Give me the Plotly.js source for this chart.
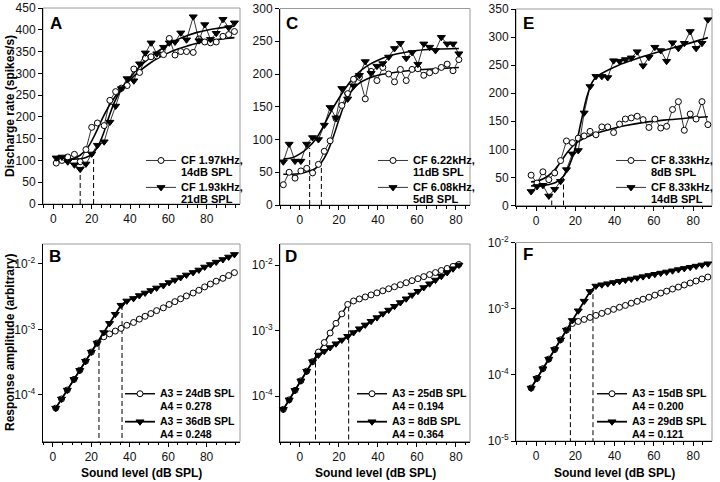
<!DOCTYPE html>
<html>
<head>
<meta charset="utf-8">
<script src="https://cdn.plot.ly/plotly-3.0.1.min.js"></script>
<style>
    body { margin: 0; background: #fff; }
    #chart { width: 720px; height: 482px; }
</style>
</head>
<body>
<div id="chart"></div>
<script>
//sound levels (dB SPL) used in each column of panels
let levelsAB = [1.5, 4.5, 7.5, 11, 14, 17, 20, 23, 26.5, 29.5, 32.5, 35.5, 38.5, 42, 45, 48, 51, 54, 57.5, 60.5, 63.5, 66.5, 69.5, 73, 76, 79, 82, 85, 88.5, 91.5, 94.5];
let levelsCD = [-8.5, -5.5, -2.5, 0.5, 3.5, 6.5, 9.5, 12.5, 15.5, 18.5, 21.5, 24.5, 27.5, 30.5, 33.5, 36.5, 39.5, 42.5, 45.5, 48.5, 51.5, 54.5, 57.5, 60.5, 63.5, 66.5, 69.5, 72.5, 75.5, 78.5, 81.5];
let levelsEF = [-2.5, 0.5, 3.5, 6.5, 9.5, 12.5, 15.5, 18.5, 21.5, 24.5, 27.5, 30.5, 33.5, 36.5, 39.5, 42.5, 45.5, 48.5, 51.5, 54.5, 57.5, 60.5, 63.5, 66.5, 69.5, 72.5, 75.5, 78.5, 81.5, 84.5, 87.5];

//panel A - discharge rates (spikes/s)
let rateA1 = [94, 100, 108, 114, 97, 125, 176, 186, 180, 238, 258, 266, 272, 310, 302, 335, 338, 340, 343, 380, 342, 350, 350, 348, 379, 372, 370, 372, 385, 389, 396];
let rateA2 = [106, 108, 97, 90, 80, 92, 115, 135, 143, 188, 225, 265, 288, 283, 322, 347, 370, 345, 360, 370, 372, 393, 377, 430, 375, 412, 378, 392, 424, 405, 416];
let fitLevelsA1 = [1.5, 6, 10, 14, 18, 22, 26, 30, 35, 40, 45, 50, 55, 60, 65, 70, 75, 80, 85, 90, 94.5];
let fitA1 = [100, 101, 104, 112, 130, 162, 200, 232, 262, 285, 305, 322, 336, 347, 356, 363, 369, 374, 377, 380, 382];
let fitLevelsA2 = [1.5, 6, 10, 14, 17, 20, 23, 26, 29, 32, 35, 40, 45, 50, 55, 60, 65, 70, 75, 80, 85, 90, 94.5];
let fitA2 = [103, 103, 103, 104, 107, 114, 130, 160, 200, 235, 260, 290, 315, 335, 352, 366, 378, 387, 394, 399, 403, 406, 408];
let threshA = [14, 21];
let threshTopA = [82, 120];

//panel C
let rateC1 = [31, 50, 41, 52, 56, 49, 62, 82, 98, 132, 152, 170, 192, 195, 162, 204, 190, 210, 200, 188, 207, 190, 207, 208, 198, 202, 205, 210, 215, 205, 222];
let rateC2 = [66, 93, 67, 67, 93, 103, 100, 122, 149, 133, 178, 162, 182, 198, 219, 201, 212, 216, 226, 239, 247, 224, 233, 215, 246, 241, 236, 256, 246, 246, 231];
let fitLevelsC1 = [-8.5, -4, 0, 4, 8, 11, 14, 17, 20, 23, 26, 30, 35, 40, 50, 60, 70, 81.5];
let fitC1 = [47, 47, 48, 51, 56, 65, 80, 103, 130, 155, 172, 185, 193, 198, 203, 206, 208, 210];
let fitLevelsC2 = [-8.5, -4, 0, 4, 8, 12, 16, 20, 24, 28, 32, 36, 40, 45, 50, 60, 70, 81.5];
let fitC2 = [70, 72, 78, 87, 100, 120, 143, 163, 181, 196, 207, 215, 221, 227, 231, 236, 238, 239];
let threshC = [5, 11];
let threshTopC = [87, 64];

//panel E
let rateE1 = [54, 40, 60, 46, 58, 80, 115, 112, 120, 124, 132, 126, 140, 140, 130, 145, 154, 156, 159, 153, 139, 154, 138, 141, 171, 185, 134, 163, 154, 185, 144];
let rateE2 = [25, 34, 36, 17, 29, 43, 64, 92, 98, 165, 212, 230, 230, 228, 258, 257, 260, 263, 274, 249, 264, 282, 276, 257, 290, 280, 289, 310, 280, 289, 331];
let fitLevelsE1 = [-2.5, 0, 4, 8, 12, 16, 20, 24, 28, 32, 38, 45, 55, 65, 75, 87.5];
let fitE1 = [42, 43, 48, 58, 75, 95, 110, 119, 125, 130, 136, 142, 148, 152, 155, 158];
let fitLevelsE2 = [-2.5, 2, 6, 10, 14, 17, 20, 23, 26, 29, 32, 36, 42, 50, 60, 70, 80, 87.5];
let fitE2 = [35, 35, 37, 41, 52, 72, 103, 150, 195, 222, 232, 240, 250, 260, 271, 281, 291, 299];
let threshE = [8, 14];
let threshTopE = [20, 49];

//panel B - response amplitude (arbitrary)
let ampB1 = [6.3e-5, 8.7e-5, 1.19e-4, 1.73e-4, 2.38e-4, 3.28e-4, 4.52e-4, 6.21e-4, 7.74e-4, 8.56e-4, 9.46e-4, 1.04e-3, 1.16e-3, 1.28e-3, 1.44e-3, 1.59e-3, 1.75e-3, 1.94e-3, 2.14e-3, 2.41e-3, 2.66e-3, 2.94e-3, 3.25e-3, 3.6e-3, 3.97e-3, 4.47e-3, 4.94e-3, 5.46e-3, 6.04e-3, 6.67e-3, 7.38e-3];
let ampB2 = [6.3e-5, 8.7e-5, 1.19e-4, 1.73e-4, 2.38e-4, 3.28e-4, 4.52e-4, 6.21e-4, 9.0e-4, 1.24e-3, 1.71e-3, 2.35e-3, 2.73e-3, 2.98e-3, 3.3e-3, 3.61e-3, 3.94e-3, 4.31e-3, 4.7e-3, 5.21e-3, 5.7e-3, 6.22e-3, 6.8e-3, 7.43e-3, 8.11e-3, 9.0e-3, 9.82e-3, 1.07e-2, 1.17e-2, 1.28e-2, 1.4e-2];
let threshB = [24, 36];
let threshTopB = [6.6e-4, 2.5e-3];

//panel D
let ampD1 = [6.31e-5, 8.82e-5, 1.23e-4, 1.72e-4, 2.41e-4, 3.37e-4, 4.71e-4, 6.58e-4, 9.2e-4, 1.29e-3, 1.8e-3, 2.51e-3, 2.83e-3, 3.04e-3, 3.26e-3, 3.5e-3, 3.76e-3, 4.04e-3, 4.34e-3, 4.66e-3, 5.0e-3, 5.37e-3, 5.77e-3, 6.19e-3, 6.65e-3, 7.14e-3, 7.67e-3, 8.24e-3, 8.85e-3, 9.51e-3, 1.02e-2];
let ampD2 = [6.31e-5, 8.82e-5, 1.23e-4, 1.72e-4, 2.41e-4, 3.37e-4, 4.25e-4, 4.85e-4, 5.53e-4, 6.31e-4, 7.19e-4, 8.2e-4, 9.35e-4, 1.07e-3, 1.22e-3, 1.39e-3, 1.58e-3, 1.81e-3, 2.06e-3, 2.35e-3, 2.68e-3, 3.06e-3, 3.49e-3, 3.98e-3, 4.54e-3, 5.18e-3, 5.9e-3, 6.74e-3, 7.69e-3, 8.77e-3, 1.0e-2];
let threshD = [8, 25];
let threshTopD = [4.3e-4, 2.45e-3];

//panel F
let ampF1 = [6.31e-5, 8.83e-5, 1.24e-4, 1.73e-4, 2.42e-4, 3.39e-4, 4.74e-4, 5.97e-4, 6.41e-4, 6.87e-4, 7.38e-4, 7.91e-4, 8.49e-4, 9.1e-4, 9.77e-4, 1.05e-3, 1.12e-3, 1.21e-3, 1.29e-3, 1.39e-3, 1.49e-3, 1.6e-3, 1.72e-3, 1.84e-3, 1.98e-3, 2.12e-3, 2.28e-3, 2.44e-3, 2.62e-3, 2.81e-3, 3.01e-3];
let ampF2 = [6.31e-5, 8.83e-5, 1.24e-4, 1.73e-4, 2.42e-4, 3.39e-4, 4.74e-4, 6.64e-4, 9.29e-4, 1.3e-3, 1.82e-3, 2.2e-3, 2.3e-3, 2.39e-3, 2.49e-3, 2.59e-3, 2.7e-3, 2.81e-3, 2.93e-3, 3.05e-3, 3.18e-3, 3.31e-3, 3.45e-3, 3.59e-3, 3.74e-3, 3.9e-3, 4.06e-3, 4.23e-3, 4.4e-3, 4.58e-3, 4.78e-3];
let threshF = [17.5, 29];
let threshTopF = [5.6e-4, 1.9e-3];

//legend labels
let namesA = ['CF 1.97kHz,<br>14dB SPL', 'CF 1.93kHz,<br>21dB SPL'];
let namesC = ['CF 6.22kHz,<br>11dB SPL', 'CF 6.08kHz,<br>5dB SPL'];
let namesE = ['CF 8.33kHz,<br>8dB SPL', 'CF 8.33kHz,<br>14dB SPL'];
let namesB = ['A3 = 24dB SPL<br>A4 = 0.278', 'A3 = 36dB SPL<br>A4 = 0.248'];
let namesD = ['A3 = 25dB SPL<br>A4 = 0.194', 'A3 = 8dB SPL<br>A4 = 0.364'];
let namesF = ['A3 = 15dB SPL<br>A4 = 0.200', 'A3 = 29dB SPL<br>A4 = 0.121'];

let font = 'Liberation Sans, Arial, Helvetica, sans-serif';

//pixel -> paper helpers (no margins, so paper == page)
function px(x) { return x / 720; }
function py(y) { return 1 - y / 482; }

//plot boxes in pixels: left, right, top, bottom
let boxA = [43, 240, 8, 204];
let boxC = [280, 470, 8.5, 205];
let boxE = [516, 712, 9, 205.5];
let boxB = [42.5, 240, 244, 441.5];
let boxD = [280, 470, 244, 441.5];
let boxF = [516, 712, 242.5, 441];

function xAxis(box, range, anchor) {
    return {
        domain: [px(box[0]), px(box[1])],
        range: range,
        anchor: anchor,
        showline: true,
        linecolor: '#000',
        linewidth: 1,
        ticks: 'outside',
        ticklen: 4,
        tickcolor: '#000',
        tick0: 0,
        dtick: 20,
        minor: { ticks: 'outside', ticklen: 2.5, tick0: 0, dtick: 5, tickcolor: '#000' },
        showgrid: false,
        zeroline: false,
        tickfont: { family: font, size: 12, color: '#111' }
    };
}

function yAxis(box, range, anchor, dtick) {
    return {
        domain: [py(box[3]), py(box[2])],
        range: range,
        anchor: anchor,
        showline: true,
        linecolor: '#000',
        linewidth: 1,
        ticks: 'outside',
        ticklen: 4,
        tickcolor: '#000',
        tick0: 0,
        dtick: dtick,
        showgrid: false,
        zeroline: false,
        tickfont: { family: font, size: 12, color: '#111' }
    };
}

function logAxis(box, range, anchor, vals) {
    let axis = yAxis(box, range, anchor, null);
    delete axis.dtick;
    delete axis.tick0;
    axis.type = 'log';
    axis.tickvals = vals;
    axis.ticktext = vals.map(v => '10<sup>' + Math.round(Math.log10(v)) + '</sup>');
    return axis;
}

//legend text is set a little larger than the legend font so the lines sit closer together
function legendName(text, size) {
    return '<span style="font-size:' + size + 'px">' + text.replace('<br>', '</span><br><span style="font-size:' + size + 'px">') + '</span>';
}

function dataTrace(x, y, filled, xa, ya, name, legend, width) {
    return {
        x: x,
        y: y,
        name: name,
        legend: legend,
        xaxis: xa,
        yaxis: ya,
        type: 'scatter',
        mode: 'lines+markers',
        cliponaxis: false,
        line: { color: '#000', width: width },
        marker: {
            symbol: filled ? 'triangle-down' : 'circle',
            size: filled ? 7 : 6,
            color: filled ? '#000' : '#fff',
            line: { color: '#000', width: 1 }
        }
    };
}

function fitTrace(x, y, xa, ya) {
    return {
        x: x,
        y: y,
        xaxis: xa,
        yaxis: ya,
        type: 'scatter',
        mode: 'lines',
        showlegend: false,
        hoverinfo: 'skip',
        line: { color: '#000', width: 1.6, shape: 'spline', smoothing: 1 }
    };
}

//vertical dashed lines from the axis floor up to each threshold
function threshTrace(levels, tops, floor, xa, ya) {
    let xs = [];
    let ys = [];
    levels.forEach((lv, i) => {
        xs.push(lv, lv, null);
        ys.push(floor, tops[i], null);
    });
    return {
        x: xs,
        y: ys,
        xaxis: xa,
        yaxis: ya,
        type: 'scatter',
        mode: 'lines',
        showlegend: false,
        hoverinfo: 'skip',
        line: { color: '#000', width: 1, dash: '5px,3px' }
    };
}

let graphData = [
    fitTrace(fitLevelsA1, fitA1, 'x', 'y'),
    fitTrace(fitLevelsA2, fitA2, 'x', 'y'),
    threshTrace(threshA, threshTopA, 0, 'x', 'y'),
    dataTrace(levelsAB, rateA1, false, 'x', 'y', legendName(namesA[0], 11), 'legend', 0.8),
    dataTrace(levelsAB, rateA2, true, 'x', 'y', legendName(namesA[1], 11), 'legend', 0.8),

    fitTrace(fitLevelsC1, fitC1, 'x2', 'y2'),
    fitTrace(fitLevelsC2, fitC2, 'x2', 'y2'),
    threshTrace(threshC, threshTopC, 0, 'x2', 'y2'),
    dataTrace(levelsCD, rateC1, false, 'x2', 'y2', legendName(namesC[0], 11), 'legend2', 0.8),
    dataTrace(levelsCD, rateC2, true, 'x2', 'y2', legendName(namesC[1], 11), 'legend2', 0.8),

    fitTrace(fitLevelsE1, fitE1, 'x3', 'y3'),
    fitTrace(fitLevelsE2, fitE2, 'x3', 'y3'),
    threshTrace(threshE, threshTopE, 0, 'x3', 'y3'),
    dataTrace(levelsEF, rateE1, false, 'x3', 'y3', legendName(namesE[0], 11), 'legend3', 0.8),
    dataTrace(levelsEF, rateE2, true, 'x3', 'y3', legendName(namesE[1], 11), 'legend3', 0.8),

    threshTrace(threshB, threshTopB, 1e-6, 'x4', 'y4'),
    dataTrace(levelsAB, ampB1, false, 'x4', 'y4', legendName(namesB[0], 10.5), 'legend4', 1.4),
    dataTrace(levelsAB, ampB2, true, 'x4', 'y4', legendName(namesB[1], 10.5), 'legend4', 1.8),

    threshTrace(threshD, threshTopD, 1e-6, 'x5', 'y5'),
    dataTrace(levelsCD, ampD1, false, 'x5', 'y5', legendName(namesD[0], 10.5), 'legend5', 1.4),
    dataTrace(levelsCD, ampD2, true, 'x5', 'y5', legendName(namesD[1], 10.5), 'legend5', 1.8),

    threshTrace(threshF, threshTopF, 1e-6, 'x6', 'y6'),
    dataTrace(levelsEF, ampF1, false, 'x6', 'y6', legendName(namesF[0], 10.5), 'legend6', 1.4),
    dataTrace(levelsEF, ampF2, true, 'x6', 'y6', legendName(namesF[1], 10.5), 'legend6', 1.8)
];

function legendAt(right, top, size) {
    return {
        x: px(right),
        xanchor: 'right',
        y: py(top),
        yanchor: 'top',
        bgcolor: 'rgba(0,0,0,0)',
        borderwidth: 0,
        itemwidth: 30,
        valign: 'top',
        tracegroupgap: 0,
        font: { family: font, size: size, color: '#000', weight: 'bold' }
    };
}

//light grey frame round each panel (left/bottom are drawn by the axes)
let frames = ['', '2', '3', '4', '5', '6'].map(n => ({
    type: 'rect',
    xref: 'x' + n + ' domain',
    yref: 'y' + n + ' domain',
    x0: 0, x1: 1, y0: 0, y1: 1,
    layer: 'below',
    line: { color: '#9a9a9a', width: 1 }
}));

function label(text, x, y, size, angle) {
    return {
        text: '<b>' + text + '</b>',
        x: px(x),
        y: py(y),
        xref: 'paper',
        yref: 'paper',
        xanchor: 'center',
        yanchor: 'middle',
        showarrow: false,
        textangle: angle || 0,
        font: { family: font, size: size, color: '#000' }
    };
}

let layout = {
    width: 720,
    height: 482,
    margin: { l: 0, r: 0, t: 0, b: 0 },
    paper_bgcolor: '#fff',
    plot_bgcolor: 'rgba(0,0,0,0)',
    showlegend: true,
    xaxis: xAxis(boxA, [-5.4, 97.4], 'y'),
    yaxis: yAxis(boxA, [0, 450], 'x', 50),
    xaxis2: xAxis(boxC, [-10.2, 87.2], 'y2'),
    yaxis2: yAxis(boxC, [0, 300], 'x2', 50),
    xaxis3: xAxis(boxE, [-10.2, 89.6], 'y3'),
    yaxis3: yAxis(boxE, [0, 350], 'x3', 50),
    xaxis4: xAxis(boxB, [-5.4, 97.4], 'y4'),
    yaxis4: logAxis(boxB, [-4.71, -1.695], 'x4', [1e-4, 1e-3, 1e-2]),
    xaxis5: xAxis(boxD, [-10.2, 87.2], 'y5'),
    yaxis5: logAxis(boxD, [-4.69, -1.68], 'x5', [1e-4, 1e-3, 1e-2]),
    xaxis6: xAxis(boxF, [-10.2, 89.6], 'y6'),
    yaxis6: logAxis(boxF, [-5, -2], 'x6', [1e-5, 1e-4, 1e-3, 1e-2]),
    legend: legendAt(248, 148, 9.2),
    legend2: legendAt(480, 148, 9.2),
    legend3: legendAt(718, 148, 9.2),
    legend4: legendAt(240, 381, 9.6),
    legend5: legendAt(472, 381, 9.6),
    legend6: legendAt(712, 381, 9.6),
    shapes: frames,
    annotations: [
        label('A', 56, 23, 17),
        label('C', 292, 23, 17),
        label('E', 528, 23, 17),
        label('B', 55, 256, 17),
        label('D', 291, 256, 17),
        label('F', 528, 254, 17),
        label('Discharge rate (spikes/s)', 10, 106, 12, -90),
        label('Response amplitude (arbitrary)', 10, 343, 12, -90),
        label('Sound level (dB SPL)', 141, 473, 12),
        label('Sound level (dB SPL)', 375, 473, 12),
        label('Sound level (dB SPL)', 614, 473, 12)
    ]
};

let options = {
    responsive: false,
    displayModeBar: false,
    staticPlot: true
};

Plotly.newPlot('chart', graphData, layout, options);
</script>
</body>
</html>
